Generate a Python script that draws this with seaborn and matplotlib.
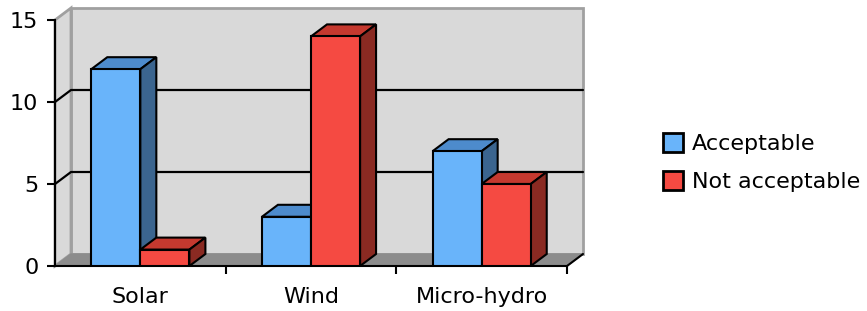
import pandas as pd
import matplotlib
matplotlib.use("Agg")
import matplotlib.pyplot as plt
import seaborn as sns
from matplotlib.patches import Polygon

# data
sources = ["Solar", "Wind", "Micro-hydro"]
series = ["Acceptable", "Not acceptable"]
acceptable = [12, 3, 7]
not_acceptable = [1, 14, 5]
yticks = [0, 5, 10, 15]

front_colors = ["#69B4FA", "#F54A42"]
top_colors = ["#4D8BCC", "#C5392F"]
side_colors = ["#3B658F", "#8A2A22"]

df = pd.DataFrame({
    "source": sources * 2,
    "answer": [series[0]] * len(sources) + [series[1]] * len(sources),
    "count": acceptable + not_acceptable,
})

sns.set_style("ticks", rc={"text.color": "black", "xtick.color": "black",
                           "ytick.color": "black", "axes.edgecolor": "black"})
plt.rcParams["font.family"] = ["DejaVu Sans"]

W, H = 867, 311
fig = plt.figure(figsize=(W / 100, H / 100), dpi=100)
# front plane of the 3D box, in pixels: x 55..567, y(0)=266, y(15)=20
ax = fig.add_axes([55 / W, 45 / H, 512 / W, 246 / H])

lw = 1.5
sns.barplot(data=df, x="source", y="count", hue="answer", palette=front_colors,
            saturation=1, width=0.575, edgecolor="black", linewidth=lw, ax=ax)

ax.set_xlim(-0.5, 2.5)
ax.set_ylim(0, 15)
ax.set_facecolor("none")

# depth offset (16 px right, 12 px up) in data units
dx = 16 * 3 / 512
dy = 12 * 15 / 246
x0, x1, ytop = -0.5, 2.5, 15

# walls and floor
back = Polygon([(x0 + dx, dy), (x1 + dx, dy), (x1 + dx, ytop + dy), (x0 + dx, ytop + dy)],
               closed=True, facecolor="#D9D9D9", edgecolor="#A0A0A0", lw=2, zorder=0, clip_on=False)
left = Polygon([(x0, 0), (x0 + dx, dy), (x0 + dx, ytop + dy), (x0, ytop)],
               closed=True, facecolor="#D9D9D9", edgecolor="#A0A0A0", lw=2, zorder=0, clip_on=False)
floor = Polygon([(x0, 0), (x1, 0), (x1 + dx, dy), (x0 + dx, dy)],
                closed=True, facecolor="#8C8C8C", edgecolor="#8C8C8C", lw=1, zorder=0.5, clip_on=False)
for p in (back, left, floor):
    ax.add_patch(p)

# gridlines on side and back wall
for v in yticks[1:-1]:
    ax.plot([x0, x0 + dx, x1 + dx], [v, v + dy, v + dy], color="black", lw=1.6,
            zorder=1, clip_on=False)
ax.plot([x1, x1 + dx], [0, dy], color="black", lw=lw, zorder=2.5, clip_on=False)

# 3D faces for every bar
for k, cont in enumerate(ax.containers):
    for bar in cont:
        bx, bw, bh = bar.get_x(), bar.get_width(), bar.get_height()
        bar.set_zorder(3 + k * 0.2)
        top = Polygon([(bx, bh), (bx + bw, bh), (bx + bw + dx, bh + dy), (bx + dx, bh + dy)],
                      closed=True, facecolor=top_colors[k], edgecolor="black", lw=lw,
                      zorder=2.9 + k * 0.2, clip_on=False)
        side = Polygon([(bx + bw, 0), (bx + bw + dx, dy), (bx + bw + dx, bh + dy), (bx + bw, bh)],
                       closed=True, facecolor=side_colors[k], edgecolor="black", lw=lw,
                       zorder=2.9 + k * 0.2, clip_on=False)
        ax.add_patch(top)
        ax.add_patch(side)

sns.despine(ax=ax)
for s in ("left", "bottom"):
    ax.spines[s].set_linewidth(lw)
    ax.spines[s].set_zorder(2.6)

ax.set_yticks(yticks)
ax.tick_params(axis="y", length=6, width=lw, pad=6, labelsize=16)
ax.set_xticks(range(len(sources)))
ax.set_xticklabels(sources)
ax.set_xticks([0.5, 1.5, 2.5], minor=True)
ax.tick_params(axis="x", which="major", length=0, pad=15, labelsize=16)
ax.tick_params(axis="x", which="minor", length=6, width=lw)
ax.set_xlabel("")
ax.set_ylabel("")

sns.move_legend(ax, "center left", bbox_to_anchor=(663 / W, 1 - 162.5 / H),
                bbox_transform=fig.transFigure, borderpad=0, borderaxespad=0,
                frameon=False, title=None, fontsize=16, handlelength=0.9,
                handleheight=0.95, handletextpad=0.4, labelspacing=0.75)
for h in ax.get_legend().legend_handles:
    h.set_edgecolor("black")
    h.set_linewidth(2)

fig.savefig("out.png", dpi=100)
